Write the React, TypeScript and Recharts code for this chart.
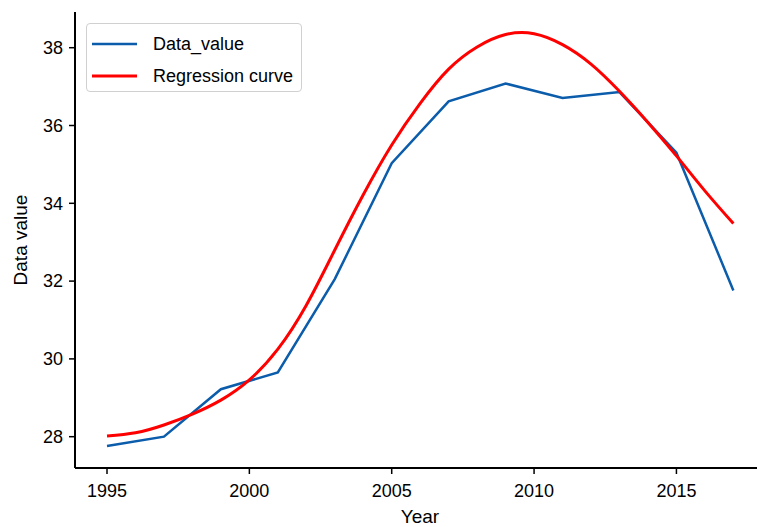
import { LineChart, Line, XAxis, YAxis, Legend } from 'recharts';

// observed series, sampled every two years
const years = [1995, 1997, 1999, 2001, 2003, 2005, 2007, 2009, 2011, 2013, 2015, 2017];
const dataValues = [27.76, 28.0, 29.22, 29.65, 32.05, 35.03, 36.62, 37.08, 36.71, 36.86, 35.3, 31.76];

// fitted regression curve, one value per year
const regYears = [
  1995, 1996, 1997, 1998, 1999, 2000, 2001, 2002, 2003, 2004, 2005, 2006, 2007, 2008, 2009,
  2010, 2011, 2012, 2013, 2014, 2015, 2016, 2017,
];
const regValues = [
  28.02, 28.1, 28.3, 28.58, 28.94, 29.46, 30.25, 31.38, 32.8, 34.22, 35.5, 36.57, 37.45, 38.02, 38.34,
  38.36, 38.08, 37.58, 36.88, 36.08, 35.22, 34.32, 33.48,
];

const xTicks = [1995, 2000, 2005, 2010, 2015];
const yTicks = [28, 30, 32, 34, 36, 38];

const BLUE = '#0b5cab';
const RED = '#ff0000';
const FONT = '"Liberation Sans", Arial, sans-serif';

const observed = years.map((year, i) => ({ year, value: dataValues[i] }));
const fitted = regYears.map((year, i) => ({ year, fit: regValues[i] }));

const xDomain = [1993.876, 2017.83];
const yDomain = [27.195, 38.918];

function LegendBox() {
  const items = [
    { label: 'Data_value', color: BLUE, width: 2.5 },
    { label: 'Regression curve', color: RED, width: 3 },
  ];
  return (
    <div
      style={{
        width: 216,
        height: 69,
        border: '1px solid #d0d0d0',
        borderRadius: 4,
        background: '#fff',
        boxSizing: 'border-box',
        paddingTop: 4,
      }}
    >
      {items.map((it) => (
        <div key={it.label} style={{ display: 'flex', alignItems: 'center', height: 32 }}>
          <svg width={66} height={10} style={{ flex: 'none' }}>
            <line x1={5} x2={50} y1={5} y2={5} stroke={it.color} strokeWidth={it.width} />
          </svg>
          <span style={{ fontFamily: FONT, fontSize: 18, color: '#000', lineHeight: '20px' }}>{it.label}</span>
        </div>
      ))}
    </div>
  );
}

function YLabel({ viewBox }: any) {
  const x = viewBox.x + 20;
  const y = viewBox.y + viewBox.height / 2;
  return (
    <text
      x={x}
      y={y}
      transform={`rotate(-90, ${x}, ${y})`}
      textAnchor="middle"
      dominantBaseline="central"
      fontFamily={FONT}
      fontSize={19}
      fill="#000"
    >
      Data value
    </text>
  );
}

export default function App() {
  return (
    <div style={{ position: 'absolute', left: 0, top: 0, width: 757, height: 527, background: '#fff' }}>
      <LineChart width={757} height={527} margin={{ top: 12, right: 0, bottom: 0, left: 0 }}>
        <XAxis
          type="number"
          dataKey="year"
          domain={xDomain}
          allowDataOverflow
          ticks={xTicks}
          height={59}
          stroke="#000"
          axisLine={{ stroke: '#000', strokeWidth: 2 }}
          tickLine={{ stroke: '#000', strokeWidth: 1.5 }}
          tickSize={6}
          tickMargin={10}
          tick={{ fontFamily: FONT, fontSize: 18, fill: '#000' }}
          label={{ value: 'Year', position: 'insideBottom', offset: 4, dx: 4, fontFamily: FONT, fontSize: 19, fill: '#000' }}
        />
        <XAxis
          xAxisId="top"
          orientation="top"
          type="number"
          domain={xDomain}
          allowDataOverflow
          height={0}
          tick={false}
          tickLine={false}
          axisLine={{ stroke: '#000', strokeWidth: 2 }}
        />
        <YAxis
          type="number"
          domain={yDomain}
          allowDataOverflow
          ticks={yTicks}
          width={75}
          axisLine={{ stroke: '#000', strokeWidth: 2 }}
          tickLine={{ stroke: '#000', strokeWidth: 1.5 }}
          tickSize={6}
          tickMargin={6}
          tick={{ fontFamily: FONT, fontSize: 18, fill: '#000' }}
          label={<YLabel />}
        />
        <Line
          data={observed}
          dataKey="value"
          type="linear"
          stroke={BLUE}
          strokeWidth={2.5}
          dot={false}
          isAnimationActive={false}
        />
        <Line
          data={fitted}
          dataKey="fit"
          type="natural"
          stroke={RED}
          strokeWidth={3}
          dot={false}
          isAnimationActive={false}
        />
        <Legend
          layout="horizontal"
          verticalAlign="middle"
          align="center"
          content={() => <LegendBox />}
          wrapperStyle={{ left: 86, top: 23, width: 216 }}
        />
      </LineChart>
    </div>
  );
}
